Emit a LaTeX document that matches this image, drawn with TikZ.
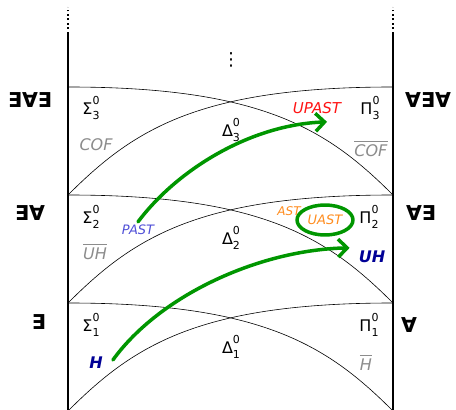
\documentclass[tikz,border=0pt]{standalone}
\usepackage{fontspec}
\setmainfont{DejaVu Sans}
\usetikzlibrary{positioning, arrows.meta, shapes.geometric}

\definecolor{handgreen}{RGB}{0,150,0}
\definecolor{upastred}{RGB}{255,20,20}
\definecolor{pastblue}{RGB}{80,80,215}
\definecolor{astorange}{RGB}{255,140,30}
\definecolor{hblue}{RGB}{0,0,150}
\definecolor{clsgray}{RGB}{140,140,140}

% level symbol with 0 on top and the index below
\newcommand{\lev}[2]{#1\rlap{\raisebox{10pt}{\fontsize{11}{12}\selectfont 0}}\raisebox{-5pt}{\fontsize{11}{12}\selectfont #2}}
% complement: a bar over the class name
\newcommand{\compl}[1]{\leavevmode\vbox{\hrule height 0.7pt\kern 3pt\hbox{#1\/}}}

\begin{document}
\begin{tikzpicture}[
      x=1pt, y=1pt,
      lvl/.style={font=\fontsize{16}{18}\selectfont, inner sep=0pt},
      quant/.style={font=\fontsize{20.5}{22}\selectfont\bfseries, inner sep=0pt},
      cls/.style={font=\fontsize{16}{18}\selectfont\itshape, text=clsgray, inner sep=0pt},
      tag/.style={font=\fontsize{#1}{#1}\selectfont\itshape, inner sep=0pt},
      bound/.style={line width=2.2pt},
      hier/.style={line width=0.6pt},
      hand/.style={line width=3.5pt, draw=handgreen, line cap=round, line join=round},
      arrow/.style={hand, -{Straight Barb[length=9pt, width=18pt]}}
    ]
    \useasboundingbox (0,0) rectangle (456,410);

    % the two sides of the hierarchy
    \draw[bound] (68,0) -- (68,378);
    \draw[bound] (393,0) -- (393,378);
    \draw[line width=1.8pt, dash pattern=on 1.8pt off 2.6pt] (68,381) -- (68,403);
    \draw[line width=1.8pt, dash pattern=on 1.8pt off 2.6pt] (393,381) -- (393,403);

    % crossing arcs of each level
    \foreach \y in {323,215,107} {
      \draw[hier] (68,\y) .. controls (263,\y) and (328,\y-43) .. (393,\y-108);
      \draw[hier] (68,\y-108) .. controls (133,\y-43) and (198,\y) .. (393,\y);
    }

    \node[lvl, font=\fontsize{18}{20}\selectfont] (dots) at (231,350) {⋮};

    \node[lvl] (sig3) at (91,302) {\lev{Σ}{3}};
    \node[lvl] (sig2) at (91,193) {\lev{Σ}{2}};
    \node[lvl] (sig1) at (91,85) {\lev{Σ}{1}};
    \node[lvl] (pi3) at (370,302) {\lev{Π}{3}};
    \node[lvl] (pi2) at (369,193) {\lev{Π}{2}};
    \node[lvl] (pi1) at (369,85) {\lev{Π}{1}};
    \node[lvl] (del3) at (231,280) {\lev{Δ}{3}};
    \node[lvl] (del2) at (231,172) {\lev{Δ}{2}};
    \node[lvl] (del1) at (231,63) {\lev{Δ}{1}};

    \node[quant] (ex3) at (30,310) {∃∀∃};
    \node[quant] (ex2) at (30,197) {∃∀};
    \node[quant] (ex1) at (39,88) {∃};
    \node[quant] (all3) at (428,310) {∀∃∀};
    \node[quant] (all2) at (421,197) {∀∃};
    \node[quant] (all1) at (409,85) {∀};

    \node[cls] (cof) at (96,265) {COF};
    \node[cls] (ncof) at (371,261) {\compl{COF}};
    \node[cls] (nuh) at (95,158) {\compl{UH}};
    \node[cls] (nh) at (366,47) {\compl{H}};

    \node[tag=15, text=upastred] (upast) at (317,302) {UPAST};
    \node[tag=13, text=pastblue] (past) at (138,180) {PAST};
    \node[tag=12, text=astorange] (ast) at (289,199) {AST};
    \node[tag=13, text=astorange, ellipse, hand, minimum width=56pt, minimum height=30pt] (uast) at (325,190) {UAST};
    \node[tag=16, text=hblue, font=\fontsize{16}{16}\selectfont\bfseries\itshape] (uh) at (372,153) {UH};
    \node[tag=16, text=hblue, font=\fontsize{16}{16}\selectfont\bfseries\itshape] (h) at (96,47) {H};

    \draw[arrow] ([yshift=3pt]past.north) .. controls +(39,52) and +(-77,-3) .. ([xshift=10pt, yshift=-8pt]upast.south);
    \draw[arrow] ([xshift=10pt, yshift=3pt]h.east) .. controls +(47,65) and +(-90,-2) .. ([xshift=-9pt, yshift=3pt]uh.north west);
  \end{tikzpicture}
\end{document}
